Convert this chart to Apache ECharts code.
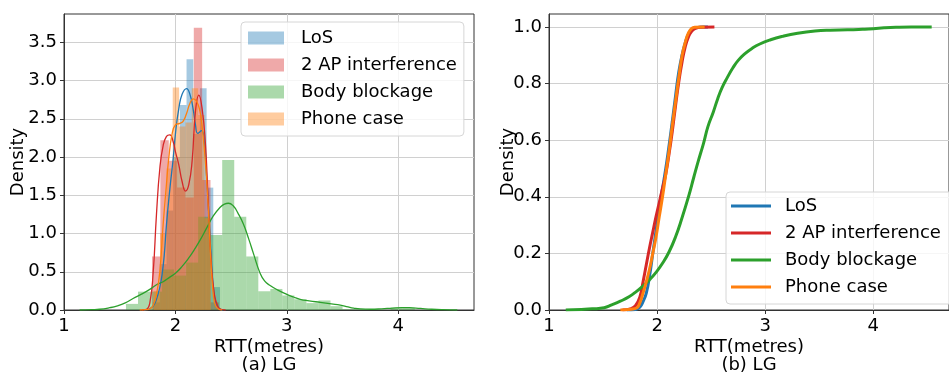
<!DOCTYPE html>
<html>
<head>
<meta charset="utf-8">
<script src="https://cdn.jsdelivr.net/npm/echarts@6/dist/echarts.min.js"></script>
<style>
  html, body { margin: 0; padding: 0; background: #fff; }
  #chart { width: 949px; height: 379px; }
</style>
</head>
<body>
<div id="chart"></div>
<script>
// Scenario names and their colours
const scenarios = ['LoS', '2 AP interference', 'Body blockage', 'Phone case'];
const lineColours = ['#1f77b4', '#d62728', '#2ca02c', '#ff7f0e'];
const histColours = ['rgba(31,119,180,0.4)', 'rgba(214,39,40,0.4)', 'rgba(44,160,44,0.4)', 'rgba(255,127,14,0.4)'];

// Tick values
const rttTicks = [1, 2, 3, 4];
const densityTicks = [0, 0.5, 1, 1.5, 2, 2.5, 3, 3.5];
const cdfTicks = [0, 0.2, 0.4, 0.6, 0.8, 1.0];

// Histogram bin edges (metres) and densities, one pair per scenario
const losEdges = [1.80, 1.86, 1.92, 1.98, 2.04, 2.10, 2.16, 2.22, 2.28, 2.34, 2.40];
const losHeights = [0.1, 0.6, 1.3, 2.0, 2.68, 3.28, 2.3, 2.9, 1.6, 0.3];

const apEdges = [1.79, 1.865, 1.94, 2.015, 2.09, 2.165, 2.24, 2.315, 2.39];
const apHeights = [0.7, 2.22, 1.95, 1.6, 1.47, 3.69, 1.7, 0.1];

const bodyEdges = [1.556, 1.664, 1.772, 1.880, 1.988, 2.096, 2.204, 2.312, 2.420, 2.528, 2.636, 2.744,
  2.852, 2.960, 3.068, 3.176, 3.284, 3.392, 3.500, 3.608, 3.716, 3.824, 3.932, 4.040, 4.148];
const bodyHeights = [0.08, 0.24, 0.24, 0.53, 0.45, 0.62, 1.22, 0.98, 1.96, 1.22, 0.70, 0.245,
  0.275, 0.19, 0.14, 0.09, 0.125, 0.05, 0.01, 0.01, 0, 0, 0.03, 0.03];

const phoneEdges = [1.805, 1.862, 1.919, 1.976, 2.033, 2.090, 2.147, 2.204, 2.261, 2.318];
const phoneHeights = [0.25, 1.0, 1.85, 2.91, 2.4, 2.45, 2.9, 2.55, 1.2];

// Kernel density estimates [RTT, density]
const losKde = [[1.72,0],[1.76,0.01],[1.80,0.05],[1.83,0.14],[1.86,0.3],[1.88,0.46],[1.90,0.72],[1.92,1.12],
  [1.95,1.58],[1.98,1.98],[2.00,2.3],[2.03,2.63],[2.06,2.82],[2.10,2.895],[2.13,2.82],[2.16,2.62],[2.18,2.42],
  [2.20,2.31],[2.235,2.345],[2.26,2.2],[2.28,1.75],[2.30,1.25],[2.32,0.72],[2.34,0.3],[2.36,0.1],[2.39,0.02],[2.43,0]];
const apKde = [[1.70,0],[1.74,0.01],[1.77,0.09],[1.80,0.48],[1.83,1.25],[1.86,1.85],[1.89,2.15],[1.92,2.27],
  [1.95,2.29],[1.98,2.2],[2.00,2.07],[2.03,1.9],[2.06,1.68],[2.09,1.555],[2.12,1.64],[2.15,1.95],[2.18,2.6],
  [2.21,2.81],[2.24,2.63],[2.27,2.16],[2.29,1.56],[2.32,0.65],[2.35,0.2],[2.38,0.05],[2.41,0.01],[2.45,0]];
const bodyKde = [[1.14,0],[1.25,0.005],[1.32,0.01],[1.41,0.03],[1.48,0.055],[1.55,0.094],[1.62,0.15],[1.70,0.21],
  [1.77,0.27],[1.83,0.33],[1.89,0.37],[1.95,0.43],[2.00,0.48],[2.06,0.57],[2.12,0.68],[2.17,0.79],[2.22,0.91],
  [2.28,1.07],[2.34,1.23],[2.40,1.34],[2.44,1.385],[2.476,1.396],[2.52,1.36],[2.56,1.27],[2.61,1.125],[2.66,0.92],
  [2.70,0.74],[2.76,0.48],[2.80,0.38],[2.85,0.32],[2.92,0.26],[3.00,0.205],[3.06,0.17],[3.12,0.14],[3.20,0.12],
  [3.30,0.10],[3.40,0.08],[3.48,0.064],[3.55,0.04],[3.60,0.025],[3.66,0.014],[3.75,0.01],[3.85,0.015],[3.95,0.025],
  [4.03,0.03],[4.10,0.03],[4.20,0.02],[4.30,0.01],[4.40,0.004],[4.53,0]];
const phoneKde = [[1.68,0],[1.74,0.005],[1.77,0.015],[1.80,0.06],[1.83,0.2],[1.86,0.5],[1.89,1.12],[1.92,1.65],
  [1.94,1.98],[1.97,2.3],[2.00,2.42],[2.04,2.44],[2.07,2.47],[2.10,2.57],[2.13,2.70],[2.16,2.76],[2.19,2.73],
  [2.22,2.6],[2.24,2.4],[2.26,2.1],[2.28,1.7],[2.30,1.2],[2.32,0.6],[2.34,0.2],[2.36,0.06],[2.39,0.01],[2.42,0]];

// Cumulative distributions [RTT, F(RTT)]
const losCdf = [[1.72,0],[1.80,0.002],[1.84,0.01],[1.87,0.03],[1.90,0.06],[1.93,0.12],[1.96,0.20],[1.99,0.28],
  [2.02,0.363],[2.05,0.43],[2.08,0.50],[2.11,0.58],[2.14,0.665],[2.17,0.755],[2.20,0.84],[2.23,0.90],[2.26,0.944],
  [2.29,0.975],[2.32,0.99],[2.36,0.997],[2.42,1.0],[2.47,1.0]];
const apCdf = [[1.68,0],[1.76,0.005],[1.80,0.015],[1.84,0.045],[1.87,0.10],[1.90,0.16],[1.93,0.22],[1.96,0.275],
  [1.99,0.33],[2.02,0.38],[2.05,0.43],[2.08,0.48],[2.11,0.55],[2.14,0.63],[2.17,0.72],[2.20,0.805],[2.23,0.875],
  [2.26,0.93],[2.29,0.965],[2.32,0.985],[2.36,0.996],[2.41,0.999],[2.53,1.0]];
const bodyCdf = [[1.155,0],[1.30,0.002],[1.40,0.004],[1.51,0.008],[1.58,0.018],[1.66,0.031],[1.74,0.047],
  [1.81,0.066],[1.87,0.085],[1.93,0.107],[1.99,0.133],[2.05,0.165],[2.11,0.205],[2.17,0.258],[2.23,0.325],
  [2.29,0.40],[2.34,0.47],[2.38,0.525],[2.43,0.59],[2.47,0.648],[2.52,0.70],[2.56,0.746],[2.60,0.785],
  [2.65,0.822],[2.70,0.855],[2.75,0.882],[2.81,0.905],[2.88,0.925],[2.95,0.940],[3.05,0.955],[3.16,0.967],
  [3.30,0.978],[3.46,0.986],[3.60,0.989],[3.76,0.99],[3.90,0.992],[4.00,0.994],[4.10,0.997],[4.21,0.999],
  [4.35,1.0],[4.54,1.0]];
const phoneCdf = [[1.66,0],[1.76,0.003],[1.81,0.007],[1.84,0.025],[1.87,0.06],[1.90,0.10],[1.93,0.145],
  [1.96,0.20],[1.99,0.258],[2.02,0.33],[2.05,0.40],[2.08,0.48],[2.11,0.56],[2.14,0.65],[2.17,0.735],[2.20,0.82],
  [2.23,0.897],[2.26,0.945],[2.29,0.979],[2.32,0.995],[2.35,0.999],[2.44,1.0]];

const FONT = 'DejaVu Sans';
const histEdges = [losEdges, apEdges, bodyEdges, phoneEdges];
const histHeights = [losHeights, apHeights, bodyHeights, phoneHeights];
const kdes = [losKde, apKde, bodyKde, phoneKde];
const cdfs = [losCdf, apCdf, bodyCdf, phoneCdf];

function binsOf(edges, heights) {
  return heights.map((h, i) => [edges[i], edges[i + 1], h]);
}

function barRenderer(fill) {
  return function (params, api) {
    const lo = api.coord([api.value(0), 0]);
    const hi = api.coord([api.value(1), api.value(2)]);
    return {
      type: 'rect',
      shape: { x: lo[0], y: hi[1], width: hi[0] - lo[0], height: lo[1] - hi[1] },
      style: { fill: fill }
    };
  };
}

function xAxisFor(gridIndex, max, caption) {
  return {
    type: 'value', gridIndex: gridIndex, min: 1, max: max, interval: 1,
    axisLine: { show: true, onZero: false, lineStyle: { color: '#333', width: 1 } },
    axisTick: { show: true, inside: false, length: 4, customValues: rttTicks, lineStyle: { color: '#333' } },
    axisLabel: { customValues: rttTicks, fontSize: 18, fontFamily: FONT, color: '#000', margin: 7 },
    splitLine: { show: true, lineStyle: { color: '#d0d0d0', width: 1 } },
    name: 'RTT(metres)\n' + caption, nameLocation: 'middle', nameGap: 28, nameMoveOverlap: false,
    nameTextStyle: { fontSize: 18, fontFamily: FONT, color: '#000', lineHeight: 18 }
  };
}

function yAxisFor(gridIndex, max, interval, ticks, nameGap) {
  return {
    type: 'value', gridIndex: gridIndex, min: 0, max: max, interval: interval,
    axisLine: { show: true, onZero: false, lineStyle: { color: '#333', width: 1 } },
    axisTick: { show: true, inside: false, length: 4, customValues: ticks, lineStyle: { color: '#333' } },
    axisLabel: { customValues: ticks, fontSize: 18, fontFamily: FONT, color: '#000', margin: 7,
      formatter: v => v.toFixed(1) },
    splitLine: { show: true, lineStyle: { color: '#d0d0d0', width: 1 } },
    name: 'Density', nameLocation: 'middle', nameGap: nameGap, nameRotate: 90, nameMoveOverlap: false,
    nameTextStyle: { fontSize: 18, fontFamily: FONT, color: '#000' }
  };
}

const series = [];
scenarios.forEach((name, i) => {
  series.push({
    name: name, type: 'custom', xAxisIndex: 0, yAxisIndex: 0,
    renderItem: barRenderer(histColours[i]),
    itemStyle: { color: histColours[i] },
    encode: { x: [0, 1], y: 2 },
    data: binsOf(histEdges[i], histHeights[i]),
    silent: true
  });
  series.push({
    name: 'kde:' + name, type: 'line', xAxisIndex: 0, yAxisIndex: 0,
    data: kdes[i], showSymbol: false, symbol: 'none', smooth: 0.5,
    color: lineColours[i], lineStyle: { color: lineColours[i], width: 1.3 }, silent: true
  });
});
scenarios.forEach((name, i) => {
  series.push({
    name: 'cdf:' + name, type: 'line', xAxisIndex: 1, yAxisIndex: 1,
    data: cdfs[i], showSymbol: false, symbol: 'none', smooth: 0.5,
    color: lineColours[i], itemStyle: { color: lineColours[i] },
    lineStyle: { color: lineColours[i], width: 3 }, silent: true
  });
});

const legendBox = {
  orient: 'vertical', selectedMode: false,
  backgroundColor: 'rgba(255,255,255,0.8)', borderColor: '#d6d6d6', borderWidth: 1, borderRadius: 4,
  itemGap: 9
};

const option = {
  animation: false,
  backgroundColor: '#fff',
  grid: [
    { left: 64, top: 14, width: 410, height: 300, show: true, borderColor: '#333', borderWidth: 1, backgroundColor: 'transparent' },
    { left: 549, top: 14, width: 412, height: 300, show: true, borderColor: '#333', borderWidth: 1, backgroundColor: 'transparent' }
  ],
  xAxis: [xAxisFor(0, 4.68, '(a) LG'), xAxisFor(1, 4.70, '(b) LG')],
  yAxis: [yAxisFor(0, 3.87, 0.5, densityTicks, 37), yAxisFor(1, 1.046, 0.2, cdfTicks, 32)],
  legend: [
    Object.assign({}, legendBox, {
      left: 241, top: 22, padding: [7, 7, 8, 7],
      icon: 'rect', itemWidth: 36, itemHeight: 13,
      textStyle: { fontSize: 18, fontFamily: FONT, color: '#000', lineHeight: 18, padding: [0, 0, 0, 12] },
      data: scenarios
    }),
    Object.assign({}, legendBox, {
      left: 726, top: 192, padding: [5, 14, 8, 5],
      icon: 'rect', itemWidth: 40, itemHeight: 3,
      textStyle: { fontSize: 18, fontFamily: FONT, color: '#000', lineHeight: 18, padding: [0, 0, 0, 9] },
      formatter: n => n.replace('cdf:', ''),
      data: scenarios.map(n => 'cdf:' + n)
    })
  ],
  series: series
};

const chart = echarts.init(document.getElementById('chart'), null, { renderer: 'canvas' });
chart.setOption(option);
</script>
</body>
</html>
